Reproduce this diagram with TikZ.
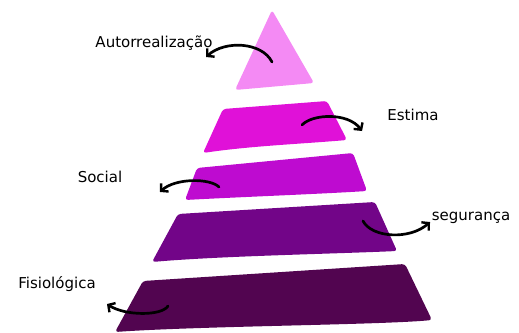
\documentclass[tikz,border=0pt]{standalone}
\usepackage{fontspec}
\setmainfont{DejaVu Sans}
\usetikzlibrary{arrows.meta}
\definecolor{cTop}{RGB}{244,138,244}
\definecolor{cEst}{RGB}{224,17,216}
\definecolor{cSoc}{RGB}{190,11,208}
\definecolor{cSeg}{RGB}{114,5,136}
\definecolor{cFis}{RGB}{82,5,80}
\begin{document}
\begin{tikzpicture}[x=1pt,y=-1pt,line join=round,
  layer/.style={rounded corners=3pt},
  lbl/.style={font=\fontsize{15}{17}\selectfont,text=black,inner sep=0pt},
  curl/.style={line width=2.7pt,line cap=round,-{Straight Barb[length=5pt,width=11pt,line width=2.4pt]}}]
\useasboundingbox (0,0) rectangle (519,332);
% pyramid layers
\fill[cTop,layer] (272,10) -- (314,83) -- (235,90) -- cycle;
\fill[cEst,layer] (223,109) -- (327,101) -- (347,140) .. controls (300,144) and (250,146) .. (203,153) -- cycle;
\fill[cSoc,layer] (197,168) -- (353,153) -- (367,191) .. controls (320,194) and (240,197) .. (185,200) -- cycle;
\fill[cFis,layer] (143,281) -- (405,264) -- (432,320) .. controls (380,325) and (200,326) .. (115,332) -- cycle;
\fill[cSeg,layer] (178,214) -- (375,202) -- (397,251) .. controls (330,254) and (220,256) .. (152,262) -- cycle;
% labels
\node[lbl] (lAuto) at (154,43) {Autorrealização};
\node[lbl] (lEst) at (413,115) {Estima};
\node[lbl] (lSoc) at (100,177) {Social};
\node[lbl] (lSeg) at (471,218) {segurança};
\node[lbl] (lFis) at (57,284) {Fisiológica};
% arrow ends
\coordinate (a1s) at (272,62); \coordinate (a1e) at (206,57);
\coordinate (a2s) at (302,125); \coordinate (a2e) at (362,131);
\coordinate (a3s) at (219,187); \coordinate (a3e) at (160,192);
\coordinate (a4s) at (363,221); \coordinate (a4e) at (430,222);
\coordinate (a5s) at (168,306); \coordinate (a5e) at (107,304);
\draw[curl] (a1s) .. controls (262,42) and (225,40) .. (a1e);
\draw[curl] (a2s) .. controls (312,114) and (348,112) .. (a2e);
\draw[curl] (a3s) .. controls (210,178) and (175,178) .. (a3e);
\draw[curl] (a4s) .. controls (372,238) and (410,240) .. (a4e);
\draw[curl] (a5s) .. controls (162,316) and (125,316) .. (a5e);
\end{tikzpicture}
\end{document}
